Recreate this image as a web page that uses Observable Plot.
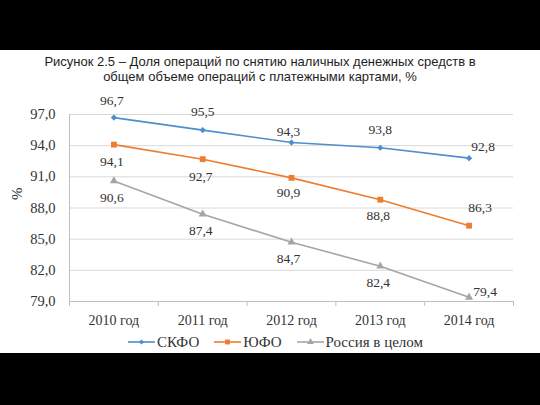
<!DOCTYPE html>
<html>
<head>
<meta charset="utf-8">
<script src="https://cdn.jsdelivr.net/npm/d3@7"></script>
<script src="https://cdn.jsdelivr.net/npm/@observablehq/plot@0.6"></script>
<style>
  html, body { margin: 0; padding: 0; background: #000; width: 540px; height: 405px; overflow: hidden; }
  #panel { position: absolute; left: 0; top: 50px; width: 540px; height: 303px; background: #fff; }
  #title { position: absolute; left: 0; top: 4px; width: 520px; text-align: center;
           font: 13px "Liberation Sans", Arial, sans-serif; line-height: 15px; color: #1e1e1e; z-index: 2; }
  #chart { position: absolute; left: 0; top: 35px; }
  #chart svg { overflow: visible; }
  #legend { position: absolute; left: 128px; top: 283px; height: 18px; display: flex; align-items: center;
            font: 15px "Liberation Serif", "Times New Roman", serif; color: #333; white-space: nowrap; }
  #legend .item { display: flex; align-items: center; margin-right: 15px; }
  #legend svg { display: block; margin-right: 2px; }
</style>
</head>
<body>
<div id="panel">
  <div id="chart"></div>
  <div id="title">Рисунок 2.5 – Доля операций по снятию наличных денежных средств в<br>общем объеме операций с платежными картами, %</div>
  <div id="legend"></div>
</div>
<script>
// ---- data ----
const years = ["2010 год", "2011 год", "2012 год", "2013 год", "2014 год"];
const seriesNames = ["СКФО", "ЮФО", "Россия в целом"];
const skfo = [96.7, 95.5, 94.3, 93.8, 92.8];
const yufo = [94.1, 92.7, 90.9, 88.8, 86.3];
const russia = [90.6, 87.4, 84.7, 82.4, 79.4];
const yTicks = [79, 82, 85, 88, 91, 94, 97];
const yAxisLabel = "%";

// ---- styles ----
const colors = ["#4f8dcf", "#ed7d31", "#a5a5a5"];
const symbols = ["diamond2", "square", "triangle"];
const symbolR = [2.8, 3.3, 3.0];
// label offsets (dx, dy) per series, per year
const labelDx = [[-2, 0, -3, 0, 14], [-2, -2, -3, -2, 11], [-2, -2, -3, -2, 16]];
const labelDy = [[-17, -18, -11, -18, -11], [17, 17, 15, 16, -18], [17, 16, 16.5, 16, -6]];

const allSeries = [skfo, yufo, russia];
const rows = allSeries.flatMap((vals, s) => vals.map((v, i) => ({i, v, s: seriesNames[s], si: s})));
const fmt = v => v.toFixed(1).replace(".", ",");
const idx = d3.range(years.length);
const bounds = d3.range(years.length + 1).map(k => k - 0.5);

const labelMarks = rows.map(r =>
  Plot.text([r], {x: "i", y: "v", text: d => fmt(d.v), dx: labelDx[r.si][r.i], dy: labelDy[r.si][r.i],
                  fontSize: 13.5, fill: "#333"})
);

const chart = Plot.plot({
  width: 540, height: 245,
  marginLeft: 69, marginRight: 27, marginTop: 29, marginBottom: 29,
  style: {fontFamily: '"Liberation Serif", "Times New Roman", serif', background: "transparent", color: "#333"},
  x: {type: "linear", domain: [-0.5, years.length - 0.5]},
  y: {domain: [79, 97]},
  color: {domain: seriesNames, range: colors},
  symbol: {domain: seriesNames, range: symbols},
  marks: [
    Plot.gridY(yTicks, {stroke: "#d9d9d9", strokeOpacity: 1, strokeWidth: 1}),
    Plot.ruleX([-0.5], {stroke: "#bfbfbf"}),
    Plot.ruleY([79], {stroke: "#bfbfbf"}),
    Plot.axisX(bounds, {tickSize: 5, tickFormat: () => "", stroke: "#bfbfbf", label: null}),
    Plot.axisX(idx, {tickSize: 0, tickPadding: 14, tickFormat: i => years[i], fontSize: 14, label: null}),
    Plot.axisY(yTicks, {tickSize: 0, tickPadding: 14, tickFormat: fmt, fontSize: 14.5, label: null}),
    Plot.text([yAxisLabel], {frameAnchor: "left", dx: -52, dy: -8, rotate: -90, fontSize: 15, fill: "#333"}),
    Plot.line(rows, {x: "i", y: "v", z: "s", stroke: "s", strokeWidth: 1.6}),
    ...seriesNames.map((name, s) =>
      Plot.dot(rows.filter(r => r.si === s), {x: "i", y: "v", symbol: "s", fill: "s", stroke: null, r: symbolR[s]})
    ),
    ...labelMarks
  ]
});
document.getElementById("chart").appendChild(chart);

// ---- legend ----
const legend = d3.select("#legend");
seriesNames.forEach((name, s) => {
  const item = legend.append("div").attr("class", "item");
  const svg = item.append("svg").attr("width", 27).attr("height", 10);
  svg.append("line").attr("x1", 0).attr("x2", 27).attr("y1", 5).attr("y2", 5)
     .attr("stroke", colors[s]).attr("stroke-width", 1.6);
  const symMap = {diamond2: d3.symbolDiamond2, square: d3.symbolSquare, triangle: d3.symbolTriangle};
  svg.append("path").attr("transform", "translate(13.5,5)")
     .attr("d", d3.symbol(symMap[symbols[s]], Math.PI * symbolR[s] * symbolR[s] * 0.7)())
     .attr("fill", colors[s]);
  item.append("span").text(name);
});
</script>
</body>
</html>
